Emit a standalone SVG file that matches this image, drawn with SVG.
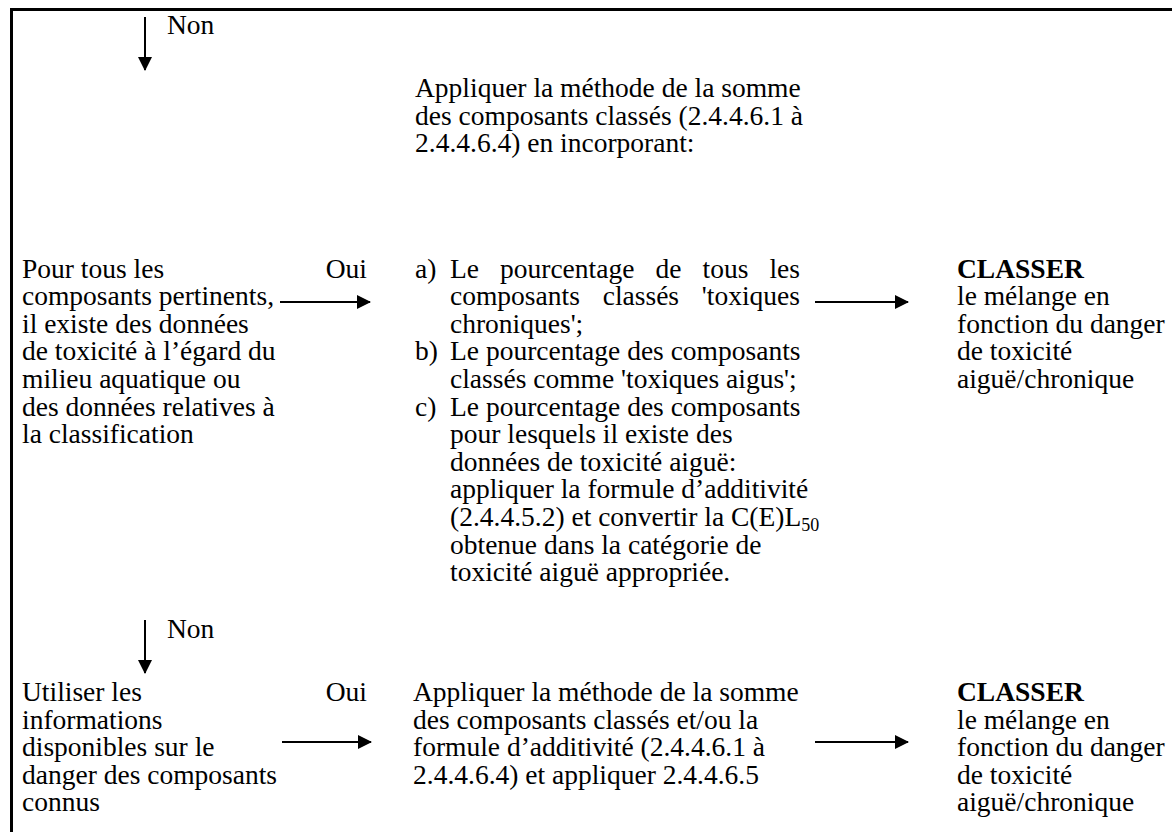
<svg xmlns="http://www.w3.org/2000/svg" width="1172" height="832" viewBox="0 0 1172 832">
<style>
text{font-family:"Liberation Serif","Times New Roman",serif;font-size:27.5px;fill:#000}
.b{font-weight:bold}
.ln{stroke:#000;stroke-width:2;fill:none}
.frame{stroke:#000;stroke-width:3;fill:none}
</style>
<defs>
<marker id="ah" markerWidth="14" markerHeight="14" refX="13" refY="7" orient="auto" markerUnits="userSpaceOnUse">
<path d="M0,0 L14,7 L0,14 Z" fill="#000"/>
</marker>
</defs>
<rect width="1172" height="832" fill="#fff"/>
<path class="frame" d="M11.5,840 V9.5 H1180"/>
<g id="connectors">
<line class="ln" x1="145" y1="17" x2="145" y2="70" marker-end="url(#ah)"/>
<line class="ln" x1="280" y1="302" x2="370" y2="302" marker-end="url(#ah)"/>
<line class="ln" x1="815" y1="302" x2="908" y2="302" marker-end="url(#ah)"/>
<line class="ln" x1="145" y1="620" x2="145" y2="673" marker-end="url(#ah)"/>
<line class="ln" x1="282" y1="742" x2="371" y2="742" marker-end="url(#ah)"/>
<line class="ln" x1="815" y1="742" x2="908" y2="742" marker-end="url(#ah)"/>
<text x="167" y="34">Non</text>
<text x="367" y="277.5" text-anchor="end">Oui</text>
<text x="167" y="638">Non</text>
<text x="367" y="701" text-anchor="end">Oui</text>
</g>
<g id="n-apply1">
<text x="415" y="97">Appliquer la méthode de la somme</text>
<text x="415" y="124.6">des composants classés (2.4.4.6.1 à</text>
<text x="415" y="152.2">2.4.4.6.4) en incorporant:</text>
</g>
<g id="n-all">
<text x="22" y="277.5">Pour tous les</text>
<text x="22" y="305.1">composants pertinents,</text>
<text x="22" y="332.7">il existe des données</text>
<text x="22" y="360.3">de toxicité à l’égard du</text>
<text x="22" y="387.9">milieu aquatique ou</text>
<text x="22" y="415.5">des données relatives à</text>
<text x="22" y="443.1">la classification</text>
</g>
<g id="n-sum">
<text x="415" y="277.5">a)</text>
<text x="450" y="277.5">Le</text>
<text x="500" y="277.5">pourcentage</text>
<text x="655.5" y="277.5">de</text>
<text x="702.5" y="277.5">tous</text>
<text x="800" y="277.5" text-anchor="end">les</text>
<text x="450" y="305.1">composants</text>
<text x="602.7" y="305.1">classés</text>
<text x="800" y="305.1" text-anchor="end">'toxiques</text>
<text x="450" y="332.7">chroniques';</text>
<text x="415" y="360.3">b)</text>
<text x="450" y="360.3">Le pourcentage des composants</text>
<text x="450" y="387.9">classés comme 'toxiques aigus';</text>
<text x="415" y="415.5">c)</text>
<text x="450" y="415.5">Le pourcentage des composants</text>
<text x="450" y="443.1">pour lesquels il existe des</text>
<text x="450" y="470.7">données de toxicité aiguë:</text>
<text x="450" y="498.3">appliquer la formule d’additivité</text>
<text x="450" y="525.9">(2.4.4.5.2) et convertir la C(E)L<tspan font-size="18" dy="5">50</tspan></text>
<text x="450" y="553.5">obtenue dans la catégorie de</text>
<text x="450" y="581.1">toxicité aiguë appropriée.</text>
</g>
<g id="n-classify1">
<text class="b" x="957" y="277.5">CLASSER</text>
<text x="957" y="305.1">le mélange en</text>
<text x="957" y="332.7">fonction du danger</text>
<text x="957" y="360.3">de toxicité</text>
<text x="957" y="387.9">aiguë/chronique</text>
</g>
<g id="n-use">
<text x="22" y="701">Utiliser les</text>
<text x="22" y="728.6">informations</text>
<text x="22" y="756.2">disponibles sur le</text>
<text x="22" y="783.8">danger des composants</text>
<text x="22" y="811.4">connus</text>
</g>
<g id="n-apply2">
<text x="413" y="701">Appliquer la méthode de la somme</text>
<text x="413" y="728.6">des composants classés et/ou la</text>
<text x="413" y="756.2">formule d’additivité (2.4.4.6.1 à</text>
<text x="413" y="783.8">2.4.4.6.4) et appliquer 2.4.4.6.5</text>
</g>
<g id="n-classify2">
<text class="b" x="957" y="701">CLASSER</text>
<text x="957" y="728.6">le mélange en</text>
<text x="957" y="756.2">fonction du danger</text>
<text x="957" y="783.8">de toxicité</text>
<text x="957" y="811.4">aiguë/chronique</text>
</g>
</svg>
